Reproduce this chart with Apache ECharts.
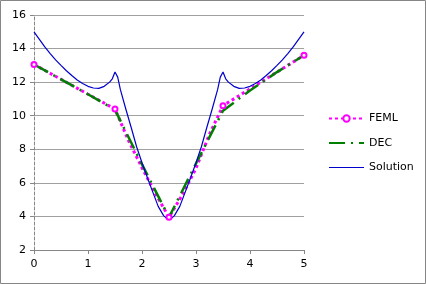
<!DOCTYPE html>
<html>
<head>
<meta charset="utf-8">
<script src="https://cdn.jsdelivr.net/npm/echarts@6/dist/echarts.min.js"></script>
<style>
html,body{margin:0;padding:0;background:#fff;}
#c{position:absolute;left:0;top:0;width:426px;height:284px;}
</style>
</head>
<body>
<div id="c"></div>
<script>
// ---- data ----
const xTicks = [0, 1, 2, 3, 4, 5];
const yTicks = [2, 4, 6, 8, 10, 12, 14, 16];

const femlX = [0, 0.5, 1.0, 1.5, 1.75, 2.0, 2.25, 2.5, 2.75, 3.0, 3.25, 3.5, 4.0, 4.5, 5.0];
const femlY = [13.05, 12.17, 11.28, 10.4, 8.52, 6.9, 5.35, 3.95, 5.3, 6.87, 8.9, 10.6, 11.6, 12.6, 13.6];
const femlMarkerX = [0, 1.5, 2.5, 3.5, 5.0];

const decX = [0, 0.5, 1.0, 1.5, 2.0, 2.5, 3.0, 3.5, 4.0, 4.5, 5.0];
const decY = [13.05, 12.17, 11.28, 10.35, 7.1, 3.95, 7.15, 10.3, 11.5, 12.6, 13.6];

const solX = [0, 0.1, 0.2, 0.3, 0.4, 0.5, 0.6, 0.7, 0.8, 0.9, 1.0, 1.1, 1.2, 1.3, 1.4, 1.45, 1.5,
              1.55, 1.6, 1.7, 1.8, 1.9, 2.0, 2.1, 2.2, 2.3, 2.4, 2.45, 2.5, 2.55, 2.6, 2.7, 2.8, 2.9, 3.0, 3.1, 3.2, 3.3, 3.4, 3.45,
              3.5, 3.55, 3.6, 3.7, 3.8, 3.9, 4.0, 4.1, 4.2, 4.3, 4.4, 4.5, 4.6, 4.7, 4.8, 4.9, 5.0];
const solY = [15.0, 14.55, 14.1, 13.7, 13.33, 13.0, 12.68, 12.4, 12.13, 11.92, 11.75, 11.65, 11.63, 11.75, 12.0, 12.2, 12.6,
              12.3, 11.55, 10.4, 9.3, 8.15, 7.2, 6.3, 5.45, 4.6, 4.05, 3.9, 3.84, 3.9, 4.05, 4.6, 5.45, 6.3, 7.2, 8.15, 9.3, 10.4, 11.55, 12.3,
              12.6, 12.2, 12.0, 11.75, 11.63, 11.65, 11.75, 11.92, 12.13, 12.4, 12.68, 13.0, 13.33, 13.7, 14.1, 14.55, 15.0];

// ---- build ----
const femlData = femlX.map((x, i) => femlMarkerX.includes(x)
  ? { value: [x, femlY[i]] }
  : { value: [x, femlY[i]], symbol: 'none' });
const decData = decX.map((x, i) => [x, decY[i]]);
const solData = solX.map((x, i) => [x, solY[i]]);

const FONT = 'DejaVu Sans';
const SOL_COLOR = '#0000cc';
const HIDE = { color: 'rgba(0,0,0,0)', borderColor: 'rgba(0,0,0,0)', borderWidth: 0, opacity: 0 };
const chart = echarts.init(document.getElementById('c'), null, { renderer: 'canvas' });
chart.setOption({
  animation: false,
  backgroundColor: '#fff',
  textStyle: { fontFamily: FONT },
  graphic: [{
    type: 'rect', z: 100, silent: true,
    shape: { x: 0.5, y: 0.5, width: 425, height: 283 },
    style: { fill: 'none', stroke: '#868686', lineWidth: 1 }
  }],
  grid: { left: 34, right: 122, top: 15, bottom: 34, containLabel: false },
  legend: {
    orient: 'vertical', left: 328, top: 113, padding: 0,
    itemWidth: 35, itemHeight: 8, itemGap: 13.5,
    textStyle: { fontFamily: FONT, fontSize: 11, color: '#000' },
    data: [
      { name: 'FEML' },
      { name: 'DEC', itemStyle: HIDE },
      { name: 'Solution', itemStyle: HIDE, lineStyle: { width: 1.2, color: SOL_COLOR, type: 'solid' } }
    ]
  },
  xAxis: {
    type: 'value', min: 0, max: 5, interval: 1,
    axisLine: { show: true, lineStyle: { color: '#868686', width: 1 } },
    axisTick: { show: true, length: 4, lineStyle: { color: '#868686' } },
    axisLabel: { fontFamily: FONT, fontSize: 11, color: '#000', margin: 9,
      formatter: v => xTicks.includes(v) ? String(v) : '' },
    splitLine: { show: false }
  },
  yAxis: {
    type: 'value', min: 2, max: 16, interval: 2,
    axisLine: { show: true, lineStyle: { color: '#868686', width: 1, type: [3, 2] } },
    axisTick: { show: true, length: 4, lineStyle: { color: '#868686' } },
    axisLabel: { fontFamily: FONT, fontSize: 11, color: '#000', margin: 8,
      formatter: v => yTicks.includes(v) ? String(v) : '' },
    splitLine: { show: true, lineStyle: { color: '#a0a0a0', width: 1 } }
  },
  series: [
    {
      name: 'FEML', type: 'line', data: femlData,
      showSymbol: true, showAllSymbol: true,
      symbol: 'emptyCircle', symbolSize: 5,
      itemStyle: { color: '#ff00ff', borderColor: '#ff00ff', borderWidth: 1.2 },
      lineStyle: { color: '#ff00ff', width: 3, type: [3, 3] }
    },
    {
      name: 'DEC', type: 'line', data: decData,
      symbol: 'none',
      itemStyle: { color: '#008000' },
      lineStyle: { color: '#008000', width: 2.5, type: [16, 6, 2, 6] }
    },
    {
      name: 'Solution', type: 'line', data: solData,
      symbol: 'none', smooth: false,
      itemStyle: { color: SOL_COLOR },
      lineStyle: { color: SOL_COLOR, width: 1.2 }
    }
  ]
});
</script>
</body>
</html>
